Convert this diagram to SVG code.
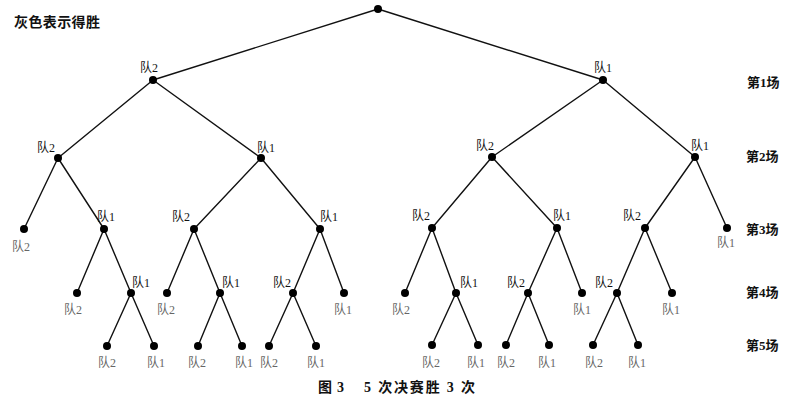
<svg xmlns="http://www.w3.org/2000/svg" width="797" height="402" viewBox="0 0 797 402">
<style>
text{font-family:"Liberation Serif","Noto Sans CJK SC",serif;fill:#111}
.lb{font-size:12px}
.lf{font-size:12px;fill:#666}
.st{font-size:13px;font-weight:bold}
.ttl{font-size:14px;font-weight:bold}
.cap{font-size:14px;font-weight:bold}
.e{stroke:#111;stroke-width:1.4;fill:none}
.d{fill:#000}
</style>
<rect width="797" height="402" fill="#fff"/>
<text class="ttl" x="14" y="27" textLength="86">灰色表示得胜</text>
<g id="stages">
<text class="st" x="747" y="87">第1场</text>
<text class="st" x="746" y="161">第2场</text>
<text class="st" x="746" y="234">第3场</text>
<text class="st" x="746" y="297">第4场</text>
<text class="st" x="746" y="350">第5场</text>
</g>
<g id="connectors" class="e">
<path d="M378 9L153 80M378 9L603 80"/>
<path d="M153 80L58 158M153 80L261 158M603 80L492 157M603 80L695 157"/>
<path d="M58 158L24 229M58 158L104 229M261 158L194 229M261 158L320 229"/>
<path d="M492 157L432 228M492 157L557 228M695 157L645 228M695 157L727 228"/>
<path d="M104 229L77 293M104 229L131 293M194 229L167 293M194 229L220 293M320 229L293 293M320 229L344 293"/>
<path d="M432 228L405 293M432 228L456 293M557 228L528 293M557 228L582 293M645 228L617 293M645 228L672 293"/>
<path d="M131 293L107 346M131 293L154 346M220 293L198 346M220 293L242 346M293 293L269 346M293 293L316 346"/>
<path d="M456 293L432 345M456 293L478 345M528 293L506 345M528 293L549 345M617 293L593 345M617 293L638 345"/>
</g>
<g id="n0"><circle class="d" cx="378" cy="9" r="4"/></g>
<g id="n1"><circle class="d" cx="153" cy="80" r="4"/><text class="lb" x="140" y="72">队2</text></g>
<g id="n2"><circle class="d" cx="603" cy="80" r="4"/><text class="lb" x="594" y="72">队1</text></g>
<g id="n3"><circle class="d" cx="58" cy="158" r="4"/><text class="lb" x="37" y="152">队2</text></g>
<g id="n4"><circle class="d" cx="261" cy="158" r="4"/><text class="lb" x="257" y="152">队1</text></g>
<g id="n5"><circle class="d" cx="492" cy="157" r="4"/><text class="lb" x="476" y="150">队2</text></g>
<g id="n6"><circle class="d" cx="695" cy="157" r="4"/><text class="lb" x="691" y="150">队1</text></g>
<g id="n7"><circle class="d" cx="24" cy="229" r="4"/><text class="lf" x="12" y="251">队2</text></g>
<g id="n8"><circle class="d" cx="104" cy="229" r="4"/><text class="lb" x="97" y="221">队1</text></g>
<g id="n9"><circle class="d" cx="194" cy="229" r="4"/><text class="lb" x="172" y="221">队2</text></g>
<g id="n10"><circle class="d" cx="320" cy="229" r="4"/><text class="lb" x="320" y="221">队1</text></g>
<g id="n11"><circle class="d" cx="432" cy="228" r="4"/><text class="lb" x="412" y="220">队2</text></g>
<g id="n12"><circle class="d" cx="557" cy="228" r="4"/><text class="lb" x="553" y="220">队1</text></g>
<g id="n13"><circle class="d" cx="645" cy="228" r="4"/><text class="lb" x="623" y="220">队2</text></g>
<g id="n14"><circle class="d" cx="727" cy="228" r="4"/><text class="lf" x="717" y="247">队1</text></g>
<g id="n15"><circle class="d" cx="77" cy="293" r="4"/><text class="lf" x="64" y="314">队2</text></g>
<g id="n16"><circle class="d" cx="131" cy="293" r="4"/><text class="lb" x="132" y="287">队1</text></g>
<g id="n17"><circle class="d" cx="167" cy="293" r="4"/><text class="lf" x="157" y="314">队2</text></g>
<g id="n18"><circle class="d" cx="220" cy="293" r="4"/><text class="lb" x="222" y="287">队1</text></g>
<g id="n19"><circle class="d" cx="293" cy="293" r="4"/><text class="lb" x="273" y="287">队2</text></g>
<g id="n20"><circle class="d" cx="344" cy="293" r="4"/><text class="lf" x="334" y="314">队1</text></g>
<g id="n21"><circle class="d" cx="405" cy="293" r="4"/><text class="lf" x="392" y="314">队2</text></g>
<g id="n22"><circle class="d" cx="456" cy="293" r="4"/><text class="lb" x="460" y="287">队1</text></g>
<g id="n23"><circle class="d" cx="528" cy="293" r="4"/><text class="lb" x="507" y="287">队2</text></g>
<g id="n24"><circle class="d" cx="582" cy="293" r="4"/><text class="lf" x="573" y="314">队1</text></g>
<g id="n25"><circle class="d" cx="617" cy="293" r="4"/><text class="lb" x="595" y="287">队2</text></g>
<g id="n26"><circle class="d" cx="672" cy="293" r="4"/><text class="lf" x="662" y="314">队1</text></g>
<g id="n27"><circle class="d" cx="107" cy="346" r="4"/><text class="lf" x="98" y="367">队2</text></g>
<g id="n28"><circle class="d" cx="154" cy="346" r="4"/><text class="lf" x="147" y="367">队1</text></g>
<g id="n29"><circle class="d" cx="198" cy="346" r="4"/><text class="lf" x="188" y="367">队2</text></g>
<g id="n30"><circle class="d" cx="242" cy="346" r="4"/><text class="lf" x="235" y="367">队1</text></g>
<g id="n31"><circle class="d" cx="269" cy="346" r="4"/><text class="lf" x="260" y="367">队2</text></g>
<g id="n32"><circle class="d" cx="316" cy="346" r="4"/><text class="lf" x="307" y="367">队1</text></g>
<g id="n33"><circle class="d" cx="432" cy="345" r="4"/><text class="lf" x="422" y="367">队2</text></g>
<g id="n34"><circle class="d" cx="478" cy="345" r="4"/><text class="lf" x="467" y="367">队1</text></g>
<g id="n35"><circle class="d" cx="506" cy="345" r="4"/><text class="lf" x="497" y="367">队2</text></g>
<g id="n36"><circle class="d" cx="549" cy="345" r="4"/><text class="lf" x="538" y="367">队1</text></g>
<g id="n37"><circle class="d" cx="593" cy="345" r="4"/><text class="lf" x="585" y="367">队2</text></g>
<g id="n38"><circle class="d" cx="638" cy="345" r="4"/><text class="lf" x="628" y="367">队1</text></g>
<text class="cap" x="318" y="392" textLength="26" lengthAdjust="spacing" xml:space="preserve">图 3</text>
<text class="cap" x="364" y="392" textLength="111" lengthAdjust="spacing" xml:space="preserve">5 次决赛胜 3 次</text>
</svg>
